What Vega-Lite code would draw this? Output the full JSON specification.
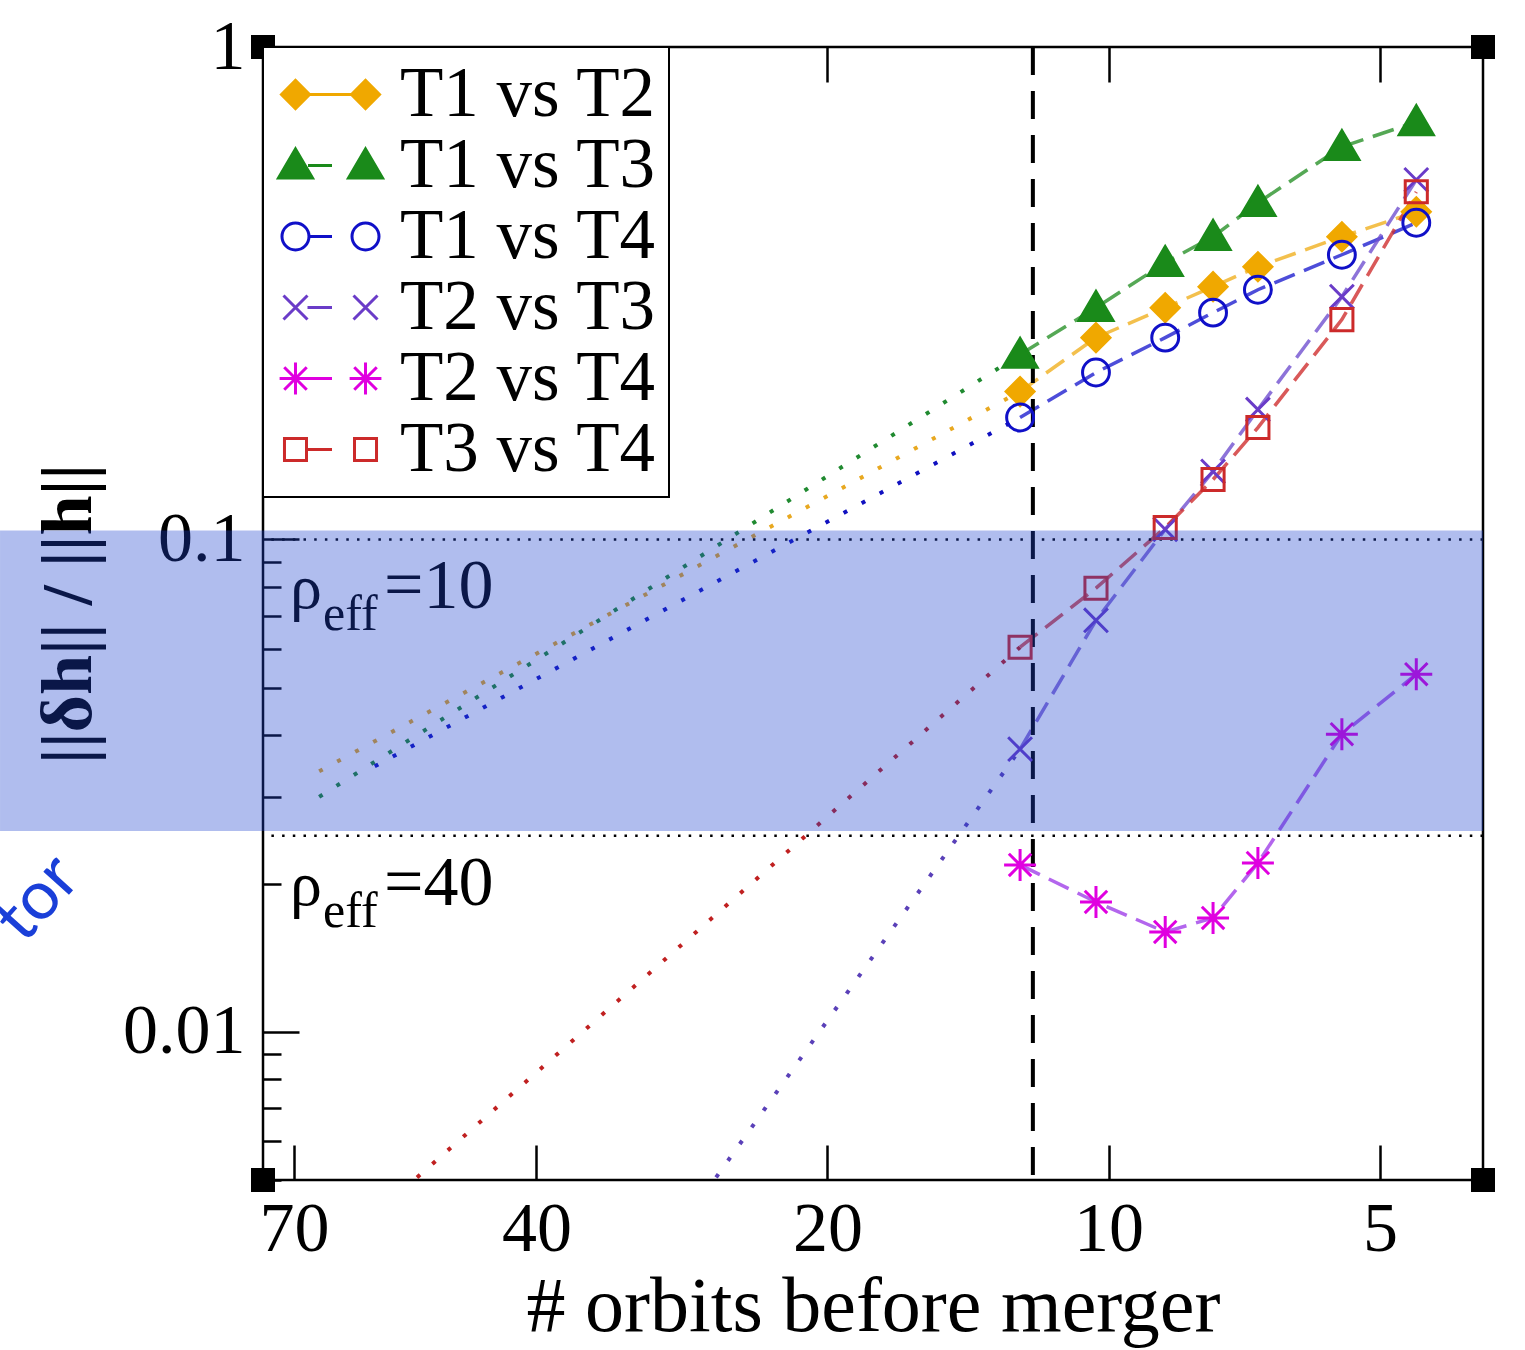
{
  "$schema": "https://vega.github.io/schema/vega-lite/v6.json",
  "width": 1220,
  "height": 1133,
  "autosize": {"type": "none"},
  "padding": {"left": 263, "top": 47, "right": 42, "bottom": 170},
  "background": "white",
  "config": {
    "view": {"stroke": "black", "strokeWidth": 2.5},
    "legend": {
      "orient": "top-left",
      "offset": 0,
      "fillColor": "white",
      "strokeColor": "black",
      "strokeWidth": 2,
      "padding": 12,
      "rowPadding": -5,
      "symbolSize": 3600,
      "symbolOffset": 20,
      "labelOffset": 34,
      "labelFont": "Liberation Serif",
      "labelFontSize": 71,
      "labelColor": "black",
      "symbolStrokeWidth": 3,
      "symbolOpacity": 1,
      "labelLimit": 0
    }
  },
  "datasets": {
    "d": [
      {"s": "T1 vs T2", "p": "NR", "x": 12.47, "y": 0.1996},
      {"s": "T1 vs T2", "p": "NR", "x": 10.32, "y": 0.2569},
      {"s": "T1 vs T2", "p": "NR", "x": 8.67, "y": 0.2955},
      {"s": "T1 vs T2", "p": "NR", "x": 7.68, "y": 0.326},
      {"s": "T1 vs T2", "p": "NR", "x": 6.85, "y": 0.3579},
      {"s": "T1 vs T2", "p": "NR", "x": 5.52, "y": 0.4118},
      {"s": "T1 vs T2", "p": "NR", "x": 4.55, "y": 0.4627},
      {"s": "T1 vs T2", "p": "ext", "x": 66.1, "y": 0.0338},
      {"s": "T1 vs T3", "p": "NR", "x": 12.47, "y": 0.2373},
      {"s": "T1 vs T3", "p": "NR", "x": 10.32, "y": 0.2955},
      {"s": "T1 vs T3", "p": "NR", "x": 8.67, "y": 0.3646},
      {"s": "T1 vs T3", "p": "NR", "x": 7.68, "y": 0.4118},
      {"s": "T1 vs T3", "p": "NR", "x": 6.85, "y": 0.4826},
      {"s": "T1 vs T3", "p": "NR", "x": 5.52, "y": 0.6269},
      {"s": "T1 vs T3", "p": "NR", "x": 4.55, "y": 0.7045},
      {"s": "T1 vs T3", "p": "ext", "x": 66.1, "y": 0.03},
      {"s": "T1 vs T4", "p": "NR", "x": 12.47, "y": 0.1768},
      {"s": "T1 vs T4", "p": "NR", "x": 10.32, "y": 0.2182},
      {"s": "T1 vs T4", "p": "NR", "x": 8.67, "y": 0.2569},
      {"s": "T1 vs T4", "p": "NR", "x": 7.68, "y": 0.2887},
      {"s": "T1 vs T4", "p": "NR", "x": 6.85, "y": 0.3214},
      {"s": "T1 vs T4", "p": "NR", "x": 5.52, "y": 0.3785},
      {"s": "T1 vs T4", "p": "NR", "x": 4.55, "y": 0.4395},
      {"s": "T1 vs T4", "p": "ext", "x": 58.2, "y": 0.0346},
      {"s": "T2 vs T3", "p": "NR", "x": 12.47, "y": 0.0375},
      {"s": "T2 vs T3", "p": "NR", "x": 10.32, "y": 0.0685},
      {"s": "T2 vs T3", "p": "NR", "x": 8.67, "y": 0.1048},
      {"s": "T2 vs T3", "p": "NR", "x": 7.68, "y": 0.1374},
      {"s": "T2 vs T3", "p": "NR", "x": 6.85, "y": 0.1835},
      {"s": "T2 vs T3", "p": "NR", "x": 5.52, "y": 0.3111},
      {"s": "T2 vs T3", "p": "NR", "x": 4.55, "y": 0.5373},
      {"s": "T2 vs T3", "p": "ext", "x": 26.15, "y": 0.00506},
      {"s": "T2 vs T4", "p": "NR", "x": 12.47, "y": 0.02182},
      {"s": "T2 vs T4", "p": "NR", "x": 10.32, "y": 0.01835},
      {"s": "T2 vs T4", "p": "NR", "x": 8.67, "y": 0.01595},
      {"s": "T2 vs T4", "p": "NR", "x": 7.68, "y": 0.01703},
      {"s": "T2 vs T4", "p": "NR", "x": 6.85, "y": 0.02202},
      {"s": "T2 vs T4", "p": "NR", "x": 5.52, "y": 0.04022},
      {"s": "T2 vs T4", "p": "NR", "x": 4.55, "y": 0.05324},
      {"s": "T3 vs T4", "p": "NR", "x": 12.47, "y": 0.0604},
      {"s": "T3 vs T4", "p": "NR", "x": 10.32, "y": 0.0796},
      {"s": "T3 vs T4", "p": "NR", "x": 8.67, "y": 0.1057},
      {"s": "T3 vs T4", "p": "NR", "x": 7.68, "y": 0.1323},
      {"s": "T3 vs T4", "p": "NR", "x": 6.85, "y": 0.1687},
      {"s": "T3 vs T4", "p": "NR", "x": 5.52, "y": 0.2795},
      {"s": "T3 vs T4", "p": "NR", "x": 4.55, "y": 0.5081},
      {"s": "T3 vs T4", "p": "ext", "x": 52.8, "y": 0.00506}
    ],
    "thr": [{"y": 0.1, "rho": "=10"}, {"y": 0.025, "rho": "=40"}],
    "vline": [{"x": 12.08}],
    "band": [{"x": 135.2, "x2": 3.82, "y": 0.1043, "y2": 0.02557}],
    "slide": [{"x": 124.3, "y": 0.0186, "t": "tor"}],
    "corners": [{"x": 75.11, "y": 1}, {"x": 3.82, "y": 1}, {"x": 75.11, "y": 0.005}, {"x": 3.82, "y": 0.005}]
  },
  "resolve": {"scale": {"color": "independent", "shape": "independent", "fill": "independent", "stroke": "independent"}, "axis": {"x": "independent", "y": "independent"}},
  "layer": [
    {
      "data": {"name": "d"},
      "transform": [{"filter": "datum.p == 'NR'"}],
      "mark": {"type": "line", "strokeWidth": 3.5, "strokeDash": [22, 10], "opacity": 0.8},
      "encoding": {
        "x": {"field": "x", "type": "quantitative",
          "scale": {"type": "pow", "exponent": 0.05, "domain": [3.82, 75.11], "reverse": true, "nice": false, "zero": false},
          "axis": {"orient": "bottom", "values": [70, 40, 20, 10, 5], "format": "d", "labelFont": "Liberation Serif", "labelFontSize": 70, "labelColor": "black", "labelPadding": 50, "labelFlush": false, "labelOverlap": false, "tickSize": -35, "tickWidth": 2.5, "tickColor": "black", "domain": false, "grid": false, "title": "# orbits before merger", "titleFont": "Liberation Serif", "titleFontSize": 78, "titleFontWeight": "normal", "titleColor": "black", "titlePadding": 4}},
        "y": {"field": "y", "type": "quantitative",
          "scale": {"type": "log", "domain": [0.005, 1], "nice": false},
          "axis": {"orient": "left", "values": [0.01, 0.1, 1],
            "labelExpr": "datum.value == 1 ? '1' : datum.value == 0.1 ? '0.1' : '0.01'",
            "labelFont": "Liberation Serif", "labelFontSize": 70, "labelColor": "black", "labelPadding": 54, "labelFlush": false, "labelOverlap": false,
            "tickSize": -36, "tickWidth": 2.5, "tickColor": "black", "domain": false, "grid": false,
            "title": "||δh|| / ||h||", "titleFont": "Liberation Serif", "titleFontSize": 72, "titleFontWeight": "bold", "titleColor": "black", "titlePadding": 17}},
        "color": {"field": "s", "type": "nominal", "legend": null,
          "scale": {"domain": ["T1 vs T2", "T1 vs T3", "T1 vs T4", "T2 vs T3", "T2 vs T4", "T3 vs T4"], "range": ["#f0b020", "#2a922a", "#2020d0", "#7050d0", "#a040e8", "#d03030"]}}
      }
    },
    {
      "data": {"name": "d"},
      "transform": [{"filter": "datum.s != 'T2 vs T4' && (datum.p == 'ext' || datum.x > 12)"}],
      "mark": {"type": "line", "strokeWidth": 4, "strokeDash": [4, 16.5]},
      "encoding": {
        "x": {"field": "x", "type": "quantitative",
          "scale": {"type": "pow", "exponent": 0.05, "domain": [3.82, 75.11], "reverse": true, "nice": false, "zero": false},
          "axis": {"orient": "top", "values": [70, 40, 20, 10, 5], "labels": false, "tickSize": -35, "tickWidth": 2.5, "tickColor": "black", "domain": false, "grid": false, "title": null}},
        "y": {"field": "y", "type": "quantitative", "scale": {"type": "log", "domain": [0.005, 1], "nice": false},
          "axis": {"orient": "left", "values": [0.005, 0.006, 0.007, 0.008, 0.009, 0.02, 0.03, 0.04, 0.05, 0.06, 0.07, 0.08, 0.09, 0.2, 0.3, 0.4, 0.5, 0.6, 0.7, 0.8, 0.9], "labels": false, "tickSize": -18, "tickWidth": 2.5, "tickColor": "black", "domain": false, "grid": false, "title": null}},
        "color": {"field": "s", "type": "nominal", "legend": null,
          "scale": {"domain": ["T1 vs T2", "T1 vs T3", "T1 vs T4", "T2 vs T3", "T2 vs T4", "T3 vs T4"], "range": ["#e8a820", "#208a30", "#1010c0", "#5a40b8", "#a040e8", "#c02020"]}}
      }
    },
    {
      "data": {"name": "vline"},
      "mark": {"type": "rule", "strokeWidth": 4, "strokeDash": [28, 16], "color": "black"},
      "encoding": {
        "x": {"field": "x", "type": "quantitative", "scale": {"type": "pow", "exponent": 0.05, "domain": [3.82, 75.11], "reverse": true, "nice": false, "zero": false}, "axis": null}
      }
    },
    {
      "data": {"name": "thr"},
      "mark": {"type": "rule", "strokeWidth": 2.5, "strokeDash": [2.5, 8.2], "color": "black"},
      "encoding": {
        "y": {"field": "y", "type": "quantitative", "scale": {"type": "log", "domain": [0.005, 1], "nice": false}, "axis": null}
      }
    },
    {
      "data": {"name": "d"},
      "transform": [{"filter": "datum.p == 'NR'"}],
      "mark": {"type": "point", "strokeWidth": 3, "size": 1156, "opacity": 1},
      "encoding": {
        "x": {"field": "x", "type": "quantitative", "scale": {"type": "pow", "exponent": 0.05, "domain": [3.82, 75.11], "reverse": true, "nice": false, "zero": false}, "axis": null},
        "y": {"field": "y", "type": "quantitative", "scale": {"type": "log", "domain": [0.005, 1], "nice": false}, "axis": null},
        "shape": {"field": "s", "type": "nominal", "legend": null,
          "scale": {"domain": ["T1 vs T2", "T1 vs T3", "T1 vs T4", "T2 vs T3", "T2 vs T4", "T3 vs T4"],
            "range": ["M-0.82,0L0,-0.82L0.82,0L0,0.82Z", "M0,-0.95L-1,0.75L1,0.75Z", "M-0.79,0A0.79,0.79,0,1,0,0.79,0A0.79,0.79,0,1,0,-0.79,0Z", "M-0.7,-0.7L0.7,0.7M-0.7,0.7L0.7,-0.7", "M0,-0.94L0,0.94M-0.94,0L0.94,0M-0.66,-0.66L0.66,0.66M-0.66,0.66L0.66,-0.66", "M-0.65,-0.65L0.65,-0.65L0.65,0.65L-0.65,0.65Z"]}},
        "fill": {"field": "s", "type": "nominal", "legend": null,
          "scale": {"domain": ["T1 vs T2", "T1 vs T3", "T1 vs T4", "T2 vs T3", "T2 vs T4", "T3 vs T4"], "range": ["#f0a800", "#1a8a1a", "transparent", "transparent", "#e000e0", "transparent"]}},
        "stroke": {"field": "s", "type": "nominal", "legend": null,
          "scale": {"domain": ["T1 vs T2", "T1 vs T3", "T1 vs T4", "T2 vs T3", "T2 vs T4", "T3 vs T4"], "range": ["#f0a800", "#1a8a1a", "#1010c8", "#6a3cc8", "#e000e0", "#cc2a2a"]}}
      }
    },
    {
      "data": {"name": "d"},
      "transform": [{"filter": "datum.p == 'NR'"}],
      "mark": {"type": "point", "strokeWidth": 3, "size": 3600, "opacity": 0},
      "encoding": {
        "x": {"field": "x", "type": "quantitative", "scale": {"type": "pow", "exponent": 0.05, "domain": [3.82, 75.11], "reverse": true, "nice": false, "zero": false}, "axis": null},
        "y": {"field": "y", "type": "quantitative", "scale": {"type": "log", "domain": [0.005, 1], "nice": false}, "axis": null},
        "shape": {"field": "s", "type": "nominal", "legend": {"title": null, "labelExpr": "datum.label + '\u2009'"},
          "scale": {"domain": ["T1 vs T2", "T1 vs T3", "T1 vs T4", "T2 vs T3", "T2 vs T4", "T3 vs T4"],
            "range": [
              "M-1.634,0L-1.167,-0.467L-0.7,0L-1.167,0.467ZM-0.7,0L0.7,0M0.7,0L1.167,-0.467L1.634,0L1.167,0.467Z",
              "M-1.167,-0.55L-0.6,0.42L-1.734,0.42ZM-0.75,0L0.05,0M1.167,-0.55L1.734,0.42L0.6,0.42Z",
              "M-1.617,0A0.45,0.45,0,1,0,-0.717,0A0.45,0.45,0,1,0,-1.617,0ZM-0.717,0L0.05,0M0.717,0A0.45,0.45,0,1,0,1.617,0A0.45,0.45,0,1,0,0.717,0Z",
              "M-1.567,-0.4L-0.767,0.4M-1.567,0.4L-0.767,-0.4M-0.767,0L0.05,0M0.767,-0.4L1.567,0.4M0.767,0.4L1.567,-0.4",
              "M-1.167,-0.53L-1.167,0.53M-1.697,0L-0.637,0M-1.542,-0.375L-0.792,0.375M-1.542,0.375L-0.792,-0.375M-0.637,0L0.05,0M1.167,-0.53L1.167,0.53M0.637,0L1.697,0M0.792,-0.375L1.542,0.375M0.792,0.375L1.542,-0.375",
              "M-1.534,-0.367L-0.8,-0.367L-0.8,0.367L-1.534,0.367ZM-0.8,0L0.05,0M0.8,-0.367L1.534,-0.367L1.534,0.367L0.8,0.367Z"]}},
        "fill": {"field": "s", "type": "nominal", "legend": {"title": null, "labelExpr": "datum.label + '\u2009'"},
          "scale": {"domain": ["T1 vs T2", "T1 vs T3", "T1 vs T4", "T2 vs T3", "T2 vs T4", "T3 vs T4"], "range": ["#f0a800", "#1a8a1a", "transparent", "transparent", "#e000e0", "transparent"]}},
        "stroke": {"field": "s", "type": "nominal", "legend": {"title": null, "labelExpr": "datum.label + '\u2009'"},
          "scale": {"domain": ["T1 vs T2", "T1 vs T3", "T1 vs T4", "T2 vs T3", "T2 vs T4", "T3 vs T4"], "range": ["#f0a800", "#1a8a1a", "#1010c8", "#6a3cc8", "#e000e0", "#cc2a2a"]}}
      }
    },
    {
      "data": {"name": "thr"},
      "mark": {"type": "text", "text": "ρ", "align": "left", "baseline": "alphabetic", "dx": 27, "dy": 69, "font": "Liberation Serif", "fontSize": 64, "color": "black"},
      "encoding": {
        "x": {"datum": 75.11, "type": "quantitative", "scale": {"type": "pow", "exponent": 0.05, "domain": [3.82, 75.11], "reverse": true, "nice": false, "zero": false}, "axis": null},
        "y": {"field": "y", "type": "quantitative", "scale": {"type": "log", "domain": [0.005, 1], "nice": false}, "axis": null}
      }
    },
    {
      "data": {"name": "thr"},
      "mark": {"type": "text", "text": "eff", "align": "left", "baseline": "alphabetic", "dx": 60, "dy": 91, "font": "Liberation Serif", "fontSize": 50, "color": "black"},
      "encoding": {
        "x": {"datum": 75.11, "type": "quantitative", "scale": {"type": "pow", "exponent": 0.05, "domain": [3.82, 75.11], "reverse": true, "nice": false, "zero": false}, "axis": null},
        "y": {"field": "y", "type": "quantitative", "scale": {"type": "log", "domain": [0.005, 1], "nice": false}, "axis": null}
      }
    },
    {
      "data": {"name": "thr"},
      "mark": {"type": "text", "align": "left", "baseline": "alphabetic", "dx": 121, "dy": 69, "font": "Liberation Serif", "fontSize": 70, "color": "black"},
      "encoding": {
        "x": {"datum": 75.11, "type": "quantitative", "scale": {"type": "pow", "exponent": 0.05, "domain": [3.82, 75.11], "reverse": true, "nice": false, "zero": false}, "axis": null},
        "y": {"field": "y", "type": "quantitative", "scale": {"type": "log", "domain": [0.005, 1], "nice": false}, "axis": null},
        "text": {"field": "rho"}
      }
    },
    {
      "data": {"name": "slide"},
      "mark": {"type": "text", "align": "center", "baseline": "middle", "angle": -48, "font": "Lato", "fontSize": 68, "color": "#1a3fd8"},
      "encoding": {
        "x": {"field": "x", "type": "quantitative", "scale": {"type": "pow", "exponent": 0.05, "domain": [3.82, 75.11], "reverse": true, "nice": false, "zero": false}, "axis": null},
        "y": {"field": "y", "type": "quantitative", "scale": {"type": "log", "domain": [0.005, 1], "nice": false}, "axis": null},
        "text": {"field": "t"}
      }
    },
    {
      "data": {"name": "band"},
      "mark": {"type": "rect", "color": "#1d42ce", "opacity": 0.35},
      "encoding": {
        "x": {"field": "x", "type": "quantitative", "scale": {"type": "pow", "exponent": 0.05, "domain": [3.82, 75.11], "reverse": true, "nice": false, "zero": false}, "axis": null},
        "x2": {"field": "x2"},
        "y": {"field": "y", "type": "quantitative", "scale": {"type": "log", "domain": [0.005, 1], "nice": false}, "axis": null},
        "y2": {"field": "y2"}
      }
    },
    {
      "data": {"name": "corners"},
      "mark": {"type": "point", "shape": "square", "size": 576, "filled": true, "color": "black", "opacity": 1},
      "encoding": {
        "x": {"field": "x", "type": "quantitative", "scale": {"type": "pow", "exponent": 0.05, "domain": [3.82, 75.11], "reverse": true, "nice": false, "zero": false}, "axis": null},
        "y": {"field": "y", "type": "quantitative", "scale": {"type": "log", "domain": [0.005, 1], "nice": false}, "axis": null}
      }
    }
  ]
}
